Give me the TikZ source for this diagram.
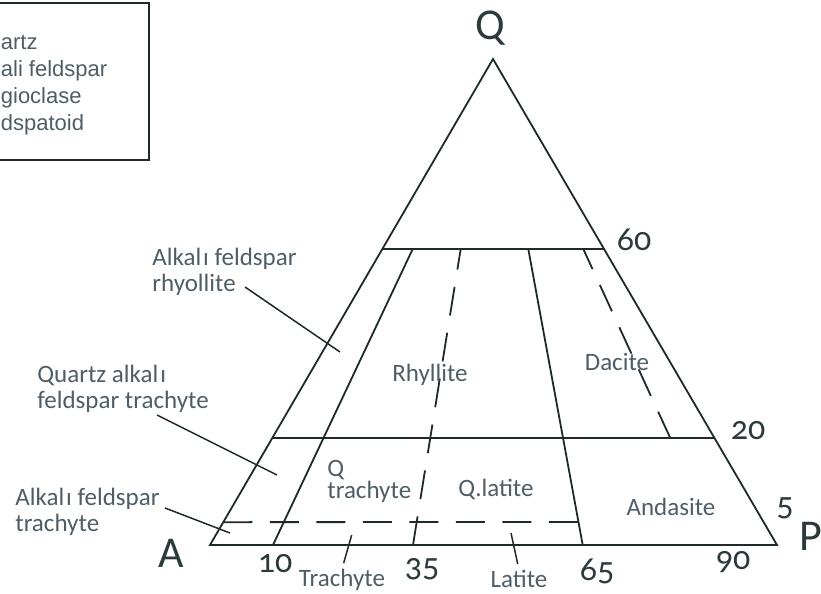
\documentclass[tikz,border=0pt]{standalone}
\usepackage{fontspec}
\setmainfont[Numbers=OldStyle]{Carlito}
\newfontfamily\legendfont{Liberation Sans}
\usepackage{xcolor}
\usetikzlibrary{positioning,calc}

\definecolor{ink}{HTML}{1E2A2A}
\definecolor{labgray}{HTML}{4E5D66}
\definecolor{numgray}{HTML}{2C3A3C}

\begin{document}
\begin{tikzpicture}[
    x=0.5pt, y=-0.5pt,
    edge/.style={draw=ink, line width=0.9pt},
    dashedge/.style={edge, dash pattern=on 14.5pt off 8.75pt},
    leader/.style={draw=ink, line width=0.75pt},
    lab/.style={font=\fontsize{12.5}{13}\selectfont, text=labgray, inner sep=0pt},
    sidelab/.style={lab, align=left, anchor=north west},
    num/.style={font=\fontsize{17}{17}\selectfont, text=numgray, inner sep=0pt},
    corner/.style={font=\fontsize{22}{22}\selectfont, text=numgray, inner sep=0pt},
    legendtxt/.style={font=\legendfont\fontsize{11}{13.5}\selectfont, text=labgray, align=left, anchor=north west, inner sep=0pt},
]
\useasboundingbox (0,0) rectangle (821,594);

% legend box, cut at the left edge
\node[legendtxt] (legend) at (0.5,35) {artz\\ali feldspar\\gioclase\\dspatoid};
\draw[leader] (0,3) -| (149,160) -- (0,160);

% corners
\coordinate (Q) at (493,59);
\coordinate (A) at (210,545);
\coordinate (P) at (777,545);
\node[corner] (qlab) at (490,28) {Q};
\node[corner] (alab) at (171,553) {A};
\node[corner] (plab) at (811,536) {P};

% points on the sides
\coordinate (a60) at ($(A)!0.609!(Q)$);
\coordinate (p60) at ($(P)!0.609!(Q)$);
\coordinate (a20) at ($(A)!0.22!(Q)$);
\coordinate (p20) at ($(P)!0.22!(Q)$);
\coordinate (a5) at ($(A)!0.047!(Q)$);

% field boundaries
\coordinate (b10) at (273,545);   \coordinate (t10) at (412.7,249);
\coordinate (b35) at (413,545);   \coordinate (t35) at (460.7,249);
\coordinate (b65) at (582.7,545); \coordinate (t65) at (528.3,249);
\coordinate (b90) at ($(a20)!0.9!(p20)$);
\coordinate (t90) at (583.3,249);
\coordinate (e65) at ($(b65)!0.0777!(t65)$);

\draw[edge] (Q) -- (A) -- (P) -- cycle;
\draw[edge] (a60) -- (p60);
\draw[edge] (a20) -- (p20);
\draw[edge] (b10) -- (t10);
\draw[edge] (b65) -- (t65);
\draw[dashedge] (b35) -- (t35);
\draw[dashedge] (b90) -- (t90);
\draw[dashedge] (a5) -- (e65);

% numbers
\node[num] (n60) at (634,240) {60};
\node[num] (n20) at (748,431) {20};
\node[num] (n5) at (785,508) {5};
\node[num] (n10) at (275,564) {10};
\node[num] (n35) at (422,569) {35};
\node[num] (n65) at (597,571) {65};
\node[num] (n90) at (733,562) {90};

% fields
\node[lab] (rhy) at (430,375) {Rhyllite};
\node[lab] (dac) at (617,362) {Dacite};
\node[lab] (qlat) at (496,489) {Q.latite};
\node[lab] (and) at (671,507) {Andasite};
\node[sidelab, align=left] (qtr) at (327,460) {Q\\[-2pt]trachyte};
\node[lab] (trach) at (342,580) {Trachyte};
\node[lab] (lat) at (519,579) {Latite};

\coordinate (trtick) at (351.7,535);
\coordinate (lattick) at (511,533);
\draw[leader, shorten >=3pt] (trtick) -- (trach.north);
\draw[leader, shorten >=3pt] (lattick) -- (lat.north);

% side labels
\node[sidelab] (afr) at (152,248) {Alkal\kern1ptı feldspar\\rhyollite};
\node[sidelab] (qaft) at (37,365) {Quartz alkal\kern1ptı\\feldspar trachyte};
\node[sidelab] (aft) at (15,488) {Alkal\kern1ptı feldspar\\trachyte};

\coordinate (afrS) at (245,287);  \coordinate (afrE) at (340,352);
\coordinate (qaftS) at (157,415); \coordinate (qaftE) at (277,475);
\coordinate (aftS) at (165,508);  \coordinate (aftE) at (230,533);
\draw[leader] (afrS) -- (afrE);
\draw[leader] (qaftS) -- (qaftE);
\draw[leader] (aftS) -- (aftE);
\end{tikzpicture}
\end{document}
